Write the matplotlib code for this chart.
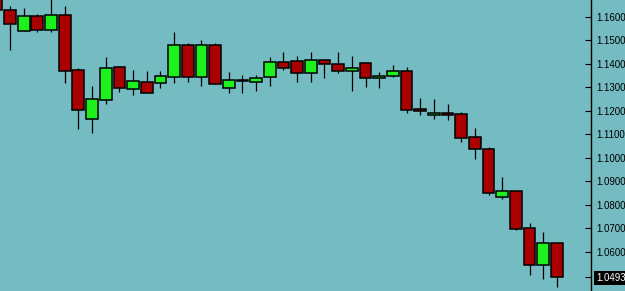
import matplotlib.pyplot as plt
import numpy as np

# candle data (index -1 is the partly visible candle at the left edge)
idx = list(range(-1, 41))
opens = [1.1694, 1.1629, 1.1542, 1.1606, 1.1546, 1.1609, 1.1373, 1.1165, 1.1247, 1.1387,
         1.1295, 1.1323, 1.1318, 1.1346, 1.1481, 1.1346, 1.1481, 1.1299, 1.1328, 1.1325,
         1.1343, 1.1409, 1.1411, 1.1360, 1.1416, 1.1400, 1.1371, 1.1404, 1.1339, 1.1348,
         1.1369, 1.1207, 1.1182, 1.1193, 1.1186, 1.1089, 1.1038, 1.0835, 1.0861, 1.0701,
         1.0543, 1.0638]
highs = [1.1715, 1.1647, 1.1637, 1.1613, 1.1685, 1.1647, 1.1382, 1.1306, 1.1431, 1.1391,
         1.1374, 1.1370, 1.1370, 1.1537, 1.1491, 1.1502, 1.1491, 1.1365, 1.1353, 1.1354,
         1.1429, 1.1450, 1.1434, 1.1452, 1.1420, 1.1452, 1.1434, 1.1409, 1.1365, 1.1394,
         1.1386, 1.1254, 1.1250, 1.1230, 1.1196, 1.1126, 1.1047, 1.0918, 1.0861, 1.0725,
         1.0685, 1.0638]
lows = [1.1621, 1.1460, 1.1540, 1.1537, 1.1537, 1.1320, 1.1122, 1.1108, 1.1230, 1.1282,
        1.1268, 1.1277, 1.1297, 1.1318, 1.1322, 1.1308, 1.1315, 1.1278, 1.1278, 1.1286,
        1.1308, 1.1374, 1.1325, 1.1325, 1.1339, 1.1360, 1.1286, 1.1303, 1.1297, 1.1343,
        1.1190, 1.1182, 1.1167, 1.1162, 1.1069, 1.0994, 1.0841, 1.0827, 1.0694, 1.0503,
        1.0486, 1.0452]
closes = [1.1630, 1.1570, 1.1604, 1.1546, 1.1609, 1.1371, 1.1206, 1.1250, 1.1384, 1.1297,
          1.1328, 1.1278, 1.1349, 1.1481, 1.1346, 1.1481, 1.1315, 1.1332, 1.1331, 1.1340,
          1.1409, 1.1383, 1.1360, 1.1416, 1.1399, 1.1371, 1.1384, 1.1339, 1.1349, 1.1369,
          1.1204, 1.1199, 1.1193, 1.1182, 1.1086, 1.1040, 1.0852, 1.0861, 1.0699, 1.0543,
          1.0638, 1.0493]
tick_vals = [1.06, 1.07, 1.08, 1.09, 1.10, 1.11, 1.12, 1.13, 1.14, 1.15, 1.16]
last_price = 1.0493

bg = '#75bbc2'
up_col = '#1ef01e'
down_col = '#aa0000'

fig = plt.figure(figsize=(6.25, 2.91), dpi=100, facecolor=bg)
ax = fig.add_axes([0, 0, 591 / 625, 1])
ax.set_facecolor(bg)

o = np.array(opens)
c = np.array(closes)
cols = [up_col if cc >= oo else down_col for oo, cc in zip(o, c)]

ax.vlines(idx, lows, highs, color='black', linewidth=0.9, zorder=1)
ax.bar(idx, np.maximum(np.abs(c - o), 0.00005), bottom=np.minimum(o, c), width=0.86,
       color=cols, edgecolor='black', linewidth=1.1, zorder=2)

ax.set_xlim(-0.731, 42.49)
ax.set_ylim(1.0434, 1.16723)

for s in ['left', 'top', 'bottom']:
    ax.spines[s].set_visible(False)
ax.spines['right'].set_color('black')
ax.spines['right'].set_linewidth(1.0)
ax.set_xticks([])

ax.yaxis.tick_right()
ticks = tick_vals + [last_price]
ax.set_yticks(ticks)
ax.set_yticklabels(['%.4f' % t for t in ticks], fontsize=7, family='Liberation Sans')
ax.tick_params(axis='y', direction='in', length=4, width=0.8, pad=3.5, colors='black')
lab = ax.get_yticklabels()[-1]
lab.set_color('white')
lab.set_bbox(dict(facecolor='black', edgecolor='none', pad=1.2))

fig.savefig('out.png', dpi=100, facecolor=bg)
